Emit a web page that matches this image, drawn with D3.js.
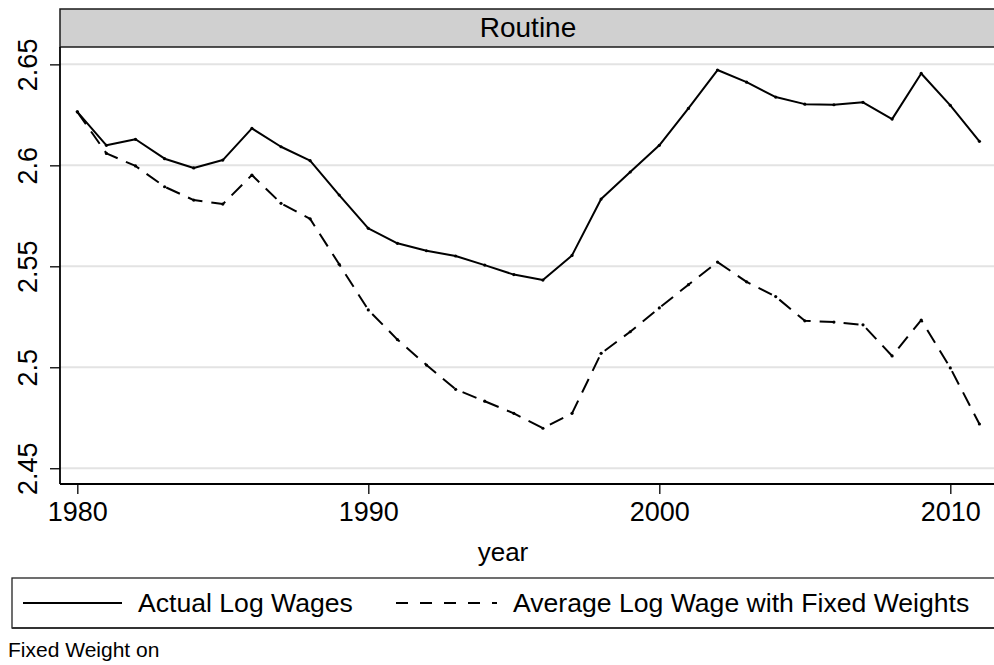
<!DOCTYPE html>
<html>
<head>
<meta charset="utf-8">
<script src="https://cdn.jsdelivr.net/npm/d3@7"></script>
<style>
  body { margin: 0; background: #fff; }
  svg text { font-family: "Liberation Sans", Arial, sans-serif; fill: #000; }
</style>
</head>
<body>
<div id="chart"></div>
<script>
const width = 994;
const height = 665;

// Data
const years = d3.range(1980, 2012);
const actualLogWages = [2.6265, 2.6099, 2.6129, 2.6033, 2.5987, 2.6026, 2.6183, 2.6092, 2.6023, 2.5853,
  2.5688, 2.5614, 2.5577, 2.5551, 2.5506, 2.5459, 2.5432, 2.5554, 2.5833, 2.5967,
  2.6099, 2.6282, 2.6472, 2.6412, 2.6338, 2.6303, 2.6300, 2.6312, 2.6229, 2.6455,
  2.6297, 2.6119];
const fixedWeightWages = [2.6265, 2.6059, 2.5997, 2.5894, 2.5828, 2.5808, 2.5952, 2.5812, 2.5735, 2.5510,
  2.5284, 2.5137, 2.5011, 2.4891, 2.4832, 2.4772, 2.4698, 2.4772, 2.5069, 2.5176,
  2.5294, 2.5409, 2.5521, 2.5423, 2.5350, 2.5230, 2.5224, 2.5210, 2.5056, 2.5234,
  2.4997, 2.4719];
const yTicks = [2.45, 2.5, 2.55, 2.6, 2.65];
const xTicks = [1980, 1990, 2000, 2010];
const panelTitle = "Routine";
const legendLabels = ["Actual Log Wages", "Average Log Wage with Fixed Weights"];

const plot = { left: 60, top: 47, right: 996, bottom: 484 };

const x = d3.scaleLinear().domain([1979.405, 2011.57]).range([plot.left, plot.right]);
const y = d3.scaleLinear().domain([2.4422, 2.6586]).range([plot.bottom, plot.top]);

const svg = d3.select("#chart").append("svg").attr("width", width).attr("height", height);

// Gridlines
svg.append("g").selectAll("line").data(yTicks).join("line")
  .attr("x1", plot.left).attr("x2", width)
  .attr("y1", d => y(d)).attr("y2", d => y(d))
  .attr("stroke", "#e3e3e3").attr("stroke-width", 2);

// Title bar
svg.append("rect").attr("x", plot.left).attr("y", 9).attr("width", 960).attr("height", 38)
  .attr("fill", "#d0d0d0").attr("stroke", "#1a1a1a").attr("stroke-width", 1.5);
svg.append("text").attr("x", (plot.left + plot.right) / 2).attr("y", 37)
  .attr("text-anchor", "middle").attr("font-size", 28).text(panelTitle);

// Axes
const yAxis = svg.append("g").attr("transform", `translate(${plot.left},0)`)
  .call(d3.axisLeft(y).tickValues(yTicks).tickSize(10).tickFormat(d3.format("")));
yAxis.select(".domain").attr("d", `M0,${plot.top}V${plot.bottom}`).attr("stroke-width", 1.8);
yAxis.selectAll(".tick line").attr("stroke-width", 1.3);
yAxis.selectAll(".tick text").attr("font-size", 27).attr("text-anchor", "middle")
  .attr("x", null).attr("dy", null)
  .attr("transform", "translate(-23,0) rotate(-90)");

const xAxis = svg.append("g").attr("transform", `translate(0,${plot.bottom})`)
  .call(d3.axisBottom(x).tickValues(xTicks).tickSize(10).tickFormat(d3.format("d")));
xAxis.select(".domain").attr("d", `M${plot.left},0H${width}`).attr("stroke-width", 1.8);
xAxis.selectAll(".tick line").attr("stroke-width", 1.3);
xAxis.selectAll(".tick text").attr("font-size", 27).attr("y", 37).attr("dy", null);
svg.selectAll(".tick text").attr("font-family", null);
svg.selectAll(".domain, .tick line").attr("stroke", "#000");

svg.append("text").attr("x", 503).attr("y", 561).attr("text-anchor", "middle")
  .attr("font-size", 26).text("year");

// Lines
const line = d3.line().x((d, i) => x(years[i])).y(d => y(d));
const series = [
  { values: fixedWeightWages, dash: "15,9" },
  { values: actualLogWages, dash: null }
];
series.forEach(s => {
  svg.append("path").datum(s.values).attr("d", line)
    .attr("fill", "none").attr("stroke", "#000").attr("stroke-width", 2)
    .attr("stroke-linejoin", "round").attr("stroke-dasharray", s.dash);
  svg.append("g").selectAll("circle").data(s.values).join("circle")
    .attr("cx", (d, i) => x(years[i])).attr("cy", d => y(d)).attr("r", 1.6).attr("fill", "#000");
});

// Legend
const legend = svg.append("g");
legend.append("rect").attr("x", 12).attr("y", 578).attr("width", 1000).attr("height", 50)
  .attr("fill", "none").attr("stroke", "#222").attr("stroke-width", 1.3);
legend.append("line").attr("x1", 12).attr("x2", width).attr("y1", 628).attr("y2", 628)
  .attr("stroke", "#333").attr("stroke-width", 2);
const keys = [
  { x1: 23, x2: 122, tx: 138, dash: null },
  { x1: 396, x2: 497, tx: 513, dash: "12,12" }
];
keys.forEach((k, i) => {
  legend.append("line").attr("x1", k.x1).attr("x2", k.x2).attr("y1", 603).attr("y2", 603)
    .attr("stroke", "#000").attr("stroke-width", 2).attr("stroke-dasharray", k.dash);
  legend.append("text").attr("x", k.tx).attr("y", 612).attr("font-size", 26.6).text(legendLabels[i]);
});

svg.append("text").attr("x", 8).attr("y", 657).attr("font-size", 21).text("Fixed Weight on");
</script>
</body>
</html>
